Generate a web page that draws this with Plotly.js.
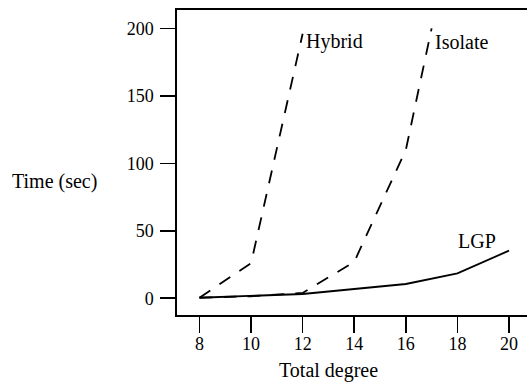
<!DOCTYPE html>
<html>
<head>
<meta charset="utf-8">
<script src="https://cdn.plot.ly/plotly-3.0.1.min.js"></script>
<style>html,body{margin:0;padding:0;background:#fff;}#chart{width:527px;height:382px;}</style>
</head>
<body>
<div id="chart"></div>
<script>
const degree = [8, 10, 12, 14, 16, 18, 20];
const hybridX = [8, 10, 12];
const hybridY = [0.5, 26, 196];
const isolateX = [8, 10, 12, 14, 16, 17];
const isolateY = [0.5, 1.5, 4, 27, 110, 200];
const lgpX = [8, 10, 12, 14, 16, 18, 20];
const lgpY = [0.4, 1.7, 3.2, 6.9, 10.6, 18.5, 35.3];
const yTicks = [0, 50, 100, 150, 200];

const FONT = '"Liberation Serif", "Times New Roman", serif';
const lineStyle = {color: '#000', width: 1.8};
const DASH = '13px,11px';

const traces = [
  {x: hybridX, y: hybridY, mode: 'lines', line: Object.assign({dash: DASH}, lineStyle), name: 'Hybrid'},
  {x: isolateX, y: isolateY, mode: 'lines', line: Object.assign({dash: DASH}, lineStyle), name: 'Isolate'},
  {x: lgpX, y: lgpY, mode: 'lines', line: Object.assign({}, lineStyle), name: 'LGP'}
];

const TS = 20;
const layout = {
  width: 527, height: 382,
  margin: {l: 177, r: 0, t: 10, b: 67},
  paper_bgcolor: '#fff', plot_bgcolor: '#fff',
  showlegend: false,
  font: {family: FONT, size: 18, color: '#000'},
  xaxis: {
    range: [7.129, 20.697], tickvals: degree, ticktext: degree.map(String),
    showgrid: false, zeroline: false, showline: true, mirror: true,
    linecolor: '#000', linewidth: 1.6, ticks: 'outside', ticklen: 16, tickwidth: 1.6, tickcolor: '#000',
    ticklabelstandoff: -4,
    tickfont: {family: FONT, size: 18}
  },
  yaxis: {
    range: [-12.37, 213.6], tickvals: yTicks, ticktext: yTicks.map(String),
    showgrid: false, zeroline: false, showline: true, mirror: false,
    linecolor: '#000', linewidth: 1.6, ticks: 'outside', ticklen: 15, tickwidth: 1.6, tickcolor: '#000',
    ticklabelstandoff: 3,
    tickfont: {family: FONT, size: 18}
  },
  annotations: [
    {text: 'Hybrid', x: 12.07, y: 190, xref: 'x', yref: 'y', xanchor: 'left', yanchor: 'middle', showarrow: false, font: {family: FONT, size: TS}},
    {text: 'Isolate', x: 17.04, y: 190, xref: 'x', yref: 'y', xanchor: 'left', yanchor: 'middle', showarrow: false, font: {family: FONT, size: TS}},
    {text: 'LGP', x: 17.95, y: 42.7, xref: 'x', yref: 'y', xanchor: 'left', yanchor: 'middle', showarrow: false, font: {family: FONT, size: TS}},
    {text: 'Time (sec)', x: (10 - 177) / 350, y: (315 - 181.7) / 305, xref: 'paper', yref: 'paper', xanchor: 'left', yanchor: 'middle', showarrow: false, font: {family: FONT, size: TS}},
    {text: 'Total degree', x: (328.3 - 177) / 350, y: (315 - 370) / 305, xref: 'paper', yref: 'paper', xanchor: 'center', yanchor: 'middle', showarrow: false, font: {family: FONT, size: TS}}
  ]
};

Plotly.newPlot('chart', traces, layout, {displayModeBar: false, staticPlot: true});
</script>
</body>
</html>
